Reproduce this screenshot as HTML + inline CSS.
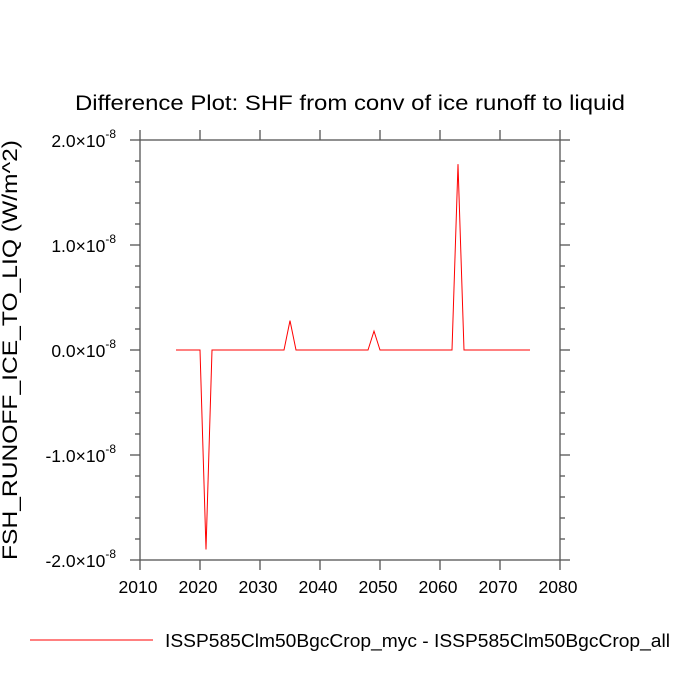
<!DOCTYPE html>
<html><head><meta charset="utf-8"><style>
html,body{margin:0;padding:0;background:#fff;}
svg{display:block;font-family:"Liberation Sans",sans-serif;}
</style></head><body>
<svg id="chart" width="700" height="700">
<text x="75" y="110" font-size="21" textLength="550" lengthAdjust="spacingAndGlyphs">Difference Plot: SHF from conv of ice runoff to liquid</text>
<text transform="translate(17,350) rotate(-90)" font-size="21" text-anchor="middle" textLength="420" lengthAdjust="spacingAndGlyphs">FSH_RUNOFF_ICE_TO_LIQ  (W/m^2)</text>
<g id="axes"></g>
<line x1="30" y1="640" x2="153" y2="640" stroke="#ff0000" stroke-width="1"/>
<text x="165" y="647" font-size="18" textLength="505" lengthAdjust="spacingAndGlyphs">ISSP585Clm50BgcCrop_myc - ISSP585Clm50BgcCrop_all</text>
</svg>
<script>
const years=[2016,2017,2018,2019,2020,2021,2022,2023,2024,2025,2026,2027,2028,2029,2030,2031,2032,2033,2034,2035,2036,2037,2038,2039,2040,2041,2042,2043,2044,2045,2046,2047,2048,2049,2050,2051,2052,2053,2054,2055,2056,2057,2058,2059,2060,2061,2062,2063,2064,2065,2066,2067,2068,2069,2070,2071,2072,2073,2074,2075];
const values=[0,0,0,0,0,-1.9,0,0,0,0,0,0,0,0,0,0,0,0,0,0.28,0,0,0,0,0,0,0,0,0,0,0,0,0,0.18,0,0,0,0,0,0,0,0,0,0,0,0,0,1.77,0,0,0,0,0,0,0,0,0,0,0,0];
const xTicks=[2010,2020,2030,2040,2050,2060,2070,2080];
const yTicks=[-2,-1,0,1,2];
const yTickLabels=["-2.0","-1.0","0.0","1.0","2.0"];
const L=140,R=560,T=140,B=560;
const xs=v=>L+(v-2010)/70*(R-L);
const ys=v=>B-(v+2)/4*(B-T);
const g=document.getElementById('axes');
const NS='http://www.w3.org/2000/svg';
function mk(t,a){const e=document.createElementNS(NS,t);for(const k in a)e.setAttribute(k,a[k]);g.appendChild(e);return e;}
const frame=mk('rect',{x:L,y:T,width:R-L,height:B-T,fill:'none',stroke:'#555',"stroke-width":1.3});


xTicks.forEach(v=>{
  const x=xs(v);
  mk('line',{x1:x,y1:B,x2:x,y2:B+10,stroke:'#555',"stroke-width":1.3});
  mk('line',{x1:x,y1:T,x2:x,y2:T-10,stroke:'#555',"stroke-width":1.3});
  const t=mk('text',{x:x-2,y:B+33,"font-size":17.5,"text-anchor":"middle"});t.textContent=v;
  
  
});
for(let v=-2;v<=2.001;v+=0.2){
  const y=ys(v);const major=Math.abs(v-Math.round(v))<1e-6;const len=major?10:5;
  mk('line',{x1:L,y1:y,x2:L-len,y2:y,stroke:'#555',"stroke-width":1.3});
  mk('line',{x1:R,y1:y,x2:R+len,y2:y,stroke:'#555',"stroke-width":1.3});
}
yTicks.forEach((v,i)=>{
  const y=ys(v);
  const t=mk('text',{x:116,y:y+7,"font-size":17.5,"text-anchor":"end"});
  t.innerHTML=yTickLabels[i]+'\u00d710<tspan font-size="12" dy="-9">-8</tspan>';
  
  
});
const line=mk('polyline',{points:years.map((yr,i)=>xs(yr)+','+ys(values[i])).join(' '),fill:'none',stroke:'#ff0000',"stroke-width":1});


</script>
</body></html>
